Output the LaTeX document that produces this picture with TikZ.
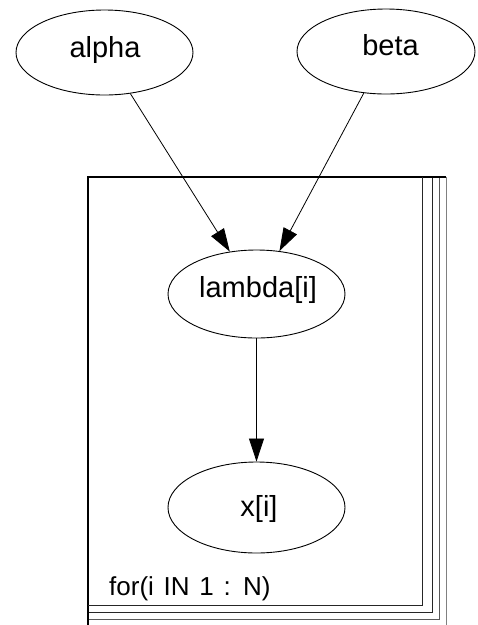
\documentclass[tikz,border=0pt]{standalone}
\usepackage{fontspec}
\setmainfont{Liberation Sans}
\newfontfamily\platefont[WordSpace=1.35]{Liberation Sans}
\usetikzlibrary{shapes.geometric,arrows.meta}

\tikzset{
  varnode/.style={ellipse, draw=black, line width=0.9pt, inner sep=0pt, minimum width=177pt},
  vartext/.style={anchor=base, inner sep=0pt, font=\fontsize{29}{30}\selectfont},
  edge/.style={draw=black, line width=0.8pt, -{Triangle[length=23pt,width=15pt]}},
  plateA/.style={draw=black, line width=1.6pt},
  plateB/.style={draw=black!85, line width=1pt},
  plateC/.style={draw=black!65, line width=1pt},
  plateD/.style={draw=black!50, line width=1pt}
}

\begin{document}
\begin{tikzpicture}[x=1pt, y=-1pt]
  \useasboundingbox (0,0) rectangle (478,625);

  % stacked plate outline
  \draw[plateD] (88,177) -- (446,177) -- (446,626);
  \draw[plateC] (88,619) -- (439,619) -- (439,177);
  \draw[plateB] (88,612) -- (432,612) -- (432,177);
  \draw[plateA] (88,626) -- (88,177) -- (446,177);
  \draw[plateB] (88,605) -- (422,605) -- (422,177);
  \node[anchor=base west, inner sep=0pt, font=\platefont\fontsize{26}{27}\selectfont]
    (platelabel) at (109,595) {for(i IN 1 : N)};

  % stochastic nodes
  \node[varnode, minimum height=85pt] (alpha) at (104.5,52.5) {};
  \node[varnode, minimum height=85pt, minimum width=178pt] (beta) at (386,51.5) {};
  \node[varnode, minimum height=88pt] (lambda) at (256.5,294) {};
  \node[varnode, minimum height=91pt] (x) at (256.5,507.5) {};

  \node[vartext] (alphaT) at (105,57) {alpha};
  \node[vartext] (betaT) at (390.5,55) {beta};
  \node[vartext] (lambdaT) at (258,297) {lambda[i]};
  \node[vartext] (xT) at (259,516) {x[i]};

  % dependencies
  \draw[edge] (alpha) -- (lambda);
  \draw[edge] (beta) -- (lambda);
  \draw[edge] (lambda) -- (x);
\end{tikzpicture}
\end{document}
